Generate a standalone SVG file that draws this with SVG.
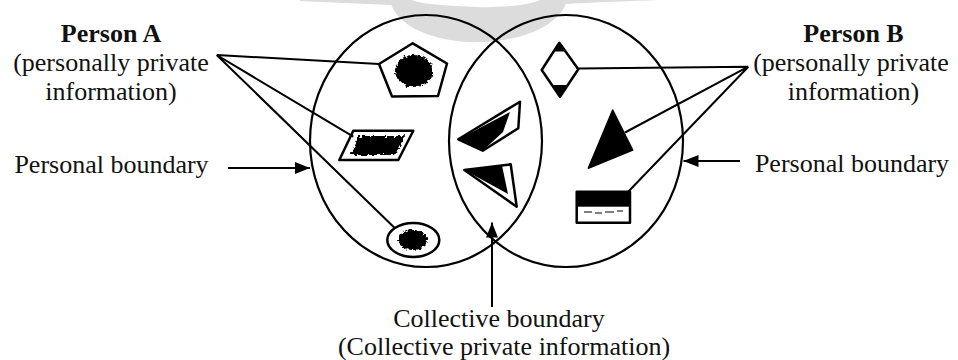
<svg xmlns="http://www.w3.org/2000/svg" width="958" height="360" viewBox="0 0 958 360">
<style>
  .lbl { font-family: "Liberation Serif", "Times New Roman", serif; font-size: 26px; fill: #111; }
  .bold { font-weight: bold; }
  .boundary { fill: none; stroke: #000; stroke-width: 2.2; }
  .shape { fill: #fff; stroke: #000; stroke-width: 2.5; stroke-linejoin: round; }
  .conn { fill: none; stroke: #000; stroke-width: 2; }
  .ink { fill: #000; }
</style>
<defs>
  <marker id="arrow" viewBox="0 0 15 12" refX="15" refY="6" markerWidth="15" markerHeight="12" markerUnits="userSpaceOnUse" orient="auto">
    <path d="M0,0 L15,6 L0,12 z" fill="#000"/>
  </marker>
  <filter id="rough" x="-30%" y="-30%" width="160%" height="160%">
    <feTurbulence type="fractalNoise" baseFrequency="0.35" numOctaves="2" seed="3" result="n"/>
    <feDisplacementMap in="SourceGraphic" in2="n" scale="6" xChannelSelector="R" yChannelSelector="G"/>
  </filter>
</defs>
<rect width="958" height="360" fill="#fff"/>

<!-- faint watermark -->
<path d="M390,0 C395,28 440,44 483,42 C530,40 562,22 567,0 L540,0 C530,5 500,8 477,7 C450,6 420,4 412,0 Z" fill="#dcdcdc"/>
<path d="M300,0 L390,0 L392,5 C360,4 330,2 300,1 Z" fill="#dcdcdc"/>
<path d="M567,0 L660,0 C630,1 600,2 566,4 Z" fill="#dcdcdc"/>

<g id="personal-boundary-A">
  <ellipse class="boundary" cx="426" cy="141" rx="116" ry="126"/>
</g>
<g id="personal-boundary-B">
  <ellipse class="boundary" cx="566" cy="141" rx="117" ry="126"/>
</g>

<g id="pentagon">
  <polygon class="shape" points="412.7,43.3 447,63.5 438,96 392,96.5 379,64"/>
  <ellipse class="ink" cx="414" cy="71" rx="19" ry="16" filter="url(#rough)"/>
</g>
<g id="parallelogram-A">
  <polygon class="shape" points="353.3,130.7 413.3,130.7 398.3,160 339.3,160"/>
  <polygon class="ink" points="359,136 405,136 395,155 350,155" filter="url(#rough)"/>
</g>
<g id="ellipse-A">
  <ellipse class="shape" cx="413.3" cy="240" rx="26" ry="17"/>
  <ellipse class="ink" cx="413" cy="240" rx="15" ry="10" filter="url(#rough)"/>
</g>

<g id="quad-collective">
  <polygon class="shape" points="458.3,139.3 520,101.7 518.3,128.3 482.7,150.7"/>
  <polygon class="ink" points="458.3,139.3 510,112 503,132 482.7,150.7"/>
</g>
<g id="triangle-collective">
  <polygon class="shape" points="464.3,170 510.7,164.3 516.7,206.7"/>
  <polygon class="ink" points="464.3,170 502,165.5 508,194"/>
</g>

<g id="diamond-B">
  <polygon class="shape" points="559.3,42.7 578.3,69.3 560,96.7 541.7,70"/>
  <polygon class="ink" points="559.3,42.7 565.5,51.5 553,51.5"/>
  <polygon class="ink" points="552,85 568,85 560,96.7"/>
</g>
<g id="triangle-B">
  <polygon class="ink" points="612.7,110 632.7,150 588.3,168.3" stroke="#000" stroke-width="1.5" stroke-linejoin="round"/>
</g>
<g id="rect-B">
  <rect class="shape" x="576.7" y="191.7" width="53.3" height="31"/>
  <rect class="ink" x="576.7" y="191.7" width="53.3" height="15"/>
  <path d="M584,212 h8 M595,213 h7 M605,212 h9 M617,211 h6" stroke="#000" stroke-width="1"/>
</g>

<g id="connectors">
  <path class="conn" d="M216.7,55 L379,64 M216.7,55 L353.3,136.7 M216.7,55 L395,228.3"/>
  <path class="conn" d="M748.3,66.7 L578.3,68.5 M748.3,66.7 L625,132.5 M748.3,66.7 L627,193"/>
  <line class="conn" x1="228" y1="168" x2="310" y2="168" marker-end="url(#arrow)"/>
  <line class="conn" x1="740" y1="161" x2="683.5" y2="161" marker-end="url(#arrow)"/>
  <line class="conn" x1="492" y1="307" x2="492" y2="222.5" marker-end="url(#arrow)"/>
</g>

<g id="label-personA">
  <text class="lbl bold" x="111" y="42" text-anchor="middle">Person A</text>
  <text class="lbl" x="111" y="70.5" text-anchor="middle">(personally private</text>
  <text class="lbl" x="111" y="100" text-anchor="middle">information)</text>
</g>
<g id="label-personB">
  <text class="lbl bold" x="853.5" y="42" text-anchor="middle">Person B</text>
  <text class="lbl" x="851" y="70.5" text-anchor="middle">(personally private</text>
  <text class="lbl" x="853.5" y="100" text-anchor="middle">information)</text>
</g>
<g id="label-boundary-A">
  <text class="lbl" x="111.5" y="173" text-anchor="middle">Personal boundary</text>
</g>
<g id="label-boundary-B">
  <text class="lbl" x="852" y="172" text-anchor="middle">Personal boundary</text>
</g>
<g id="label-collective">
  <text class="lbl" x="499" y="327" text-anchor="middle">Collective boundary</text>
  <text class="lbl" x="504" y="355" text-anchor="middle">(Collective private information)</text>
</g>
</svg>
